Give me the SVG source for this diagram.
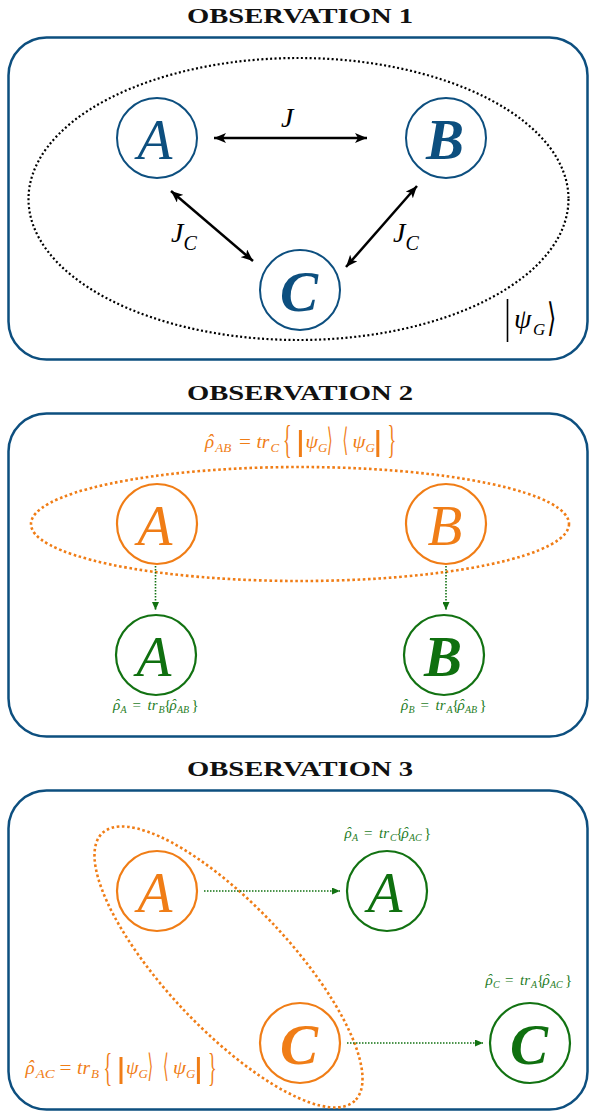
<svg xmlns="http://www.w3.org/2000/svg" width="590" height="1112" viewBox="0 0 590 1112">
<style>
.title{font-family:"Liberation Serif",serif;font-weight:bold;font-size:21px;fill:#111;text-anchor:middle}
.panel{fill:none;stroke:#0d4f7f;stroke-width:2.5}
.big{font-family:"Liberation Serif",serif;font-style:italic;font-size:57px;text-anchor:middle}
.bold{font-weight:bold}
.nb{fill:none;stroke:#0d4f7f;stroke-width:2}
.no{fill:none;stroke:#f07d16;stroke-width:2.2}
.ng{fill:none;stroke:#127212;stroke-width:2.2}
.tb{fill:#0d4f7f}.to{fill:#f07d16}.tg{fill:#0f700f}
.m{font-family:"Liberation Serif","DejaVu Serif",serif;font-style:italic}
.up{font-style:normal}
.lbl{font-family:"Liberation Serif","DejaVu Serif",serif;font-style:italic;font-size:15px;fill:#1f7d1f}
.s{font-size:10px}
.orf{font-family:"Liberation Serif","DejaVu Serif",serif;font-style:italic;font-size:19px;fill:#f07d16}
.sub{font-size:13px}
.ang{font-family:"DejaVu Serif",serif;font-style:normal;font-size:32px}
.brc{font-family:"Liberation Serif",serif;font-style:normal;font-size:40px}
.blk{stroke:#000;stroke-width:2.5;fill:none}
.gar{stroke:#127212;stroke-width:1.6;stroke-dasharray:1.5 1.5;fill:none}
.obar{stroke:#f07d16;stroke-width:3}
</style>
<defs>
<marker id="ah" viewBox="0 0 12 10" refX="12" refY="5" markerWidth="12" markerHeight="10" markerUnits="userSpaceOnUse" orient="auto-start-reverse">
<path d="M0,0 L12,5 L0,10 L3,5 z" fill="#000"/>
</marker>
<marker id="gh" viewBox="0 0 8 7" refX="8" refY="3.5" markerWidth="8" markerHeight="7" markerUnits="userSpaceOnUse" orient="auto">
<path d="M0,0 L8,3.5 L0,7 z" fill="#127212"/>
</marker>
</defs>

<!-- Titles -->
<text class="title" x="300" y="23" textLength="226" lengthAdjust="spacingAndGlyphs">OBSERVATION 1</text>
<text class="title" x="300" y="400" textLength="226" lengthAdjust="spacingAndGlyphs">OBSERVATION 2</text>
<text class="title" x="300" y="776" textLength="226" lengthAdjust="spacingAndGlyphs">OBSERVATION 3</text>

<!-- Panels -->
<rect class="panel" x="8.5" y="37.5" width="579" height="322" rx="38" ry="38"/>
<rect class="panel" x="8.5" y="413.5" width="579" height="323" rx="38" ry="38"/>
<rect class="panel" x="8.5" y="790.5" width="579" height="319" rx="38" ry="38"/>

<!-- Observation 1 -->
<ellipse cx="298.5" cy="199" rx="270" ry="141" fill="none" stroke="#000" stroke-width="2.2" stroke-dasharray="2 2.4"/>
<g id="o1-A"><circle class="nb" cx="157" cy="138" r="40"/><text class="big tb" x="155" y="159">A</text></g>
<g id="o1-B"><circle class="nb" cx="446" cy="138" r="40"/><text class="big tb bold" x="445" y="159">B</text></g>
<g id="o1-C"><circle class="nb" cx="300" cy="290" r="40"/><text class="big tb bold" x="299" y="311">C</text></g>
<g id="o1-connectors">
<line class="blk" x1="214" y1="138" x2="367" y2="138" marker-start="url(#ah)" marker-end="url(#ah)"/>
<line class="blk" x1="171" y1="191" x2="253" y2="261" marker-start="url(#ah)" marker-end="url(#ah)"/>
<line class="blk" x1="417" y1="186" x2="346" y2="267" marker-start="url(#ah)" marker-end="url(#ah)"/>
</g>
<text class="m" x="281" y="127" font-size="28" fill="#000">J</text>
<text class="m" x="171" y="242" font-size="28" fill="#000">J<tspan font-size="20" dy="8">C</tspan></text>
<text class="m" x="393" y="242" font-size="28" fill="#000">J<tspan font-size="20" dy="8">C</tspan></text>
<g id="o1-psi">
<line x1="507.5" y1="299" x2="507.5" y2="342" stroke="#000" stroke-width="1.6"/>
<text class="m" x="514" y="328" font-size="28" fill="#000">ψ</text>
<text class="m" x="533" y="335" font-size="17" fill="#000">G</text>
<text x="547" y="331" font-family="DejaVu Serif,serif" font-size="34" fill="#000" transform="translate(547 331) scale(0.7 1.15) translate(-547 -331)">⟩</text>
</g>

<!-- Observation 2 -->
<ellipse cx="300" cy="524" rx="269" ry="57" fill="none" stroke="#f07d16" stroke-width="2.6" stroke-dasharray="2.6 2.6"/>
<g id="o2-formula" class="orf">
<text x="205" y="448">ρ</text>
<text x="207" y="447">ˆ</text>
<text class="sub" x="215.2" y="452" textLength="16" lengthAdjust="spacingAndGlyphs">AB</text>
<text class="up" x="238.9" y="448" textLength="12" lengthAdjust="spacingAndGlyphs">=</text>
<text x="256.4" y="448" textLength="13" lengthAdjust="spacingAndGlyphs">tr</text>
<text class="sub" x="270.4" y="452">C</text>
<text class="brc" x="283" y="453" transform="translate(283 453) scale(0.45 1) translate(-283 -453)">{</text>
<line class="obar" x1="300.4" y1="430" x2="300.4" y2="457"/>
<text x="305.4" y="448" textLength="12.5" lengthAdjust="spacingAndGlyphs">ψ</text>
<text class="sub" x="318" y="452">G</text>
<text class="ang" x="327" y="451" transform="translate(327 451) scale(0.45 1) translate(-327 -451)">⟩</text>
<text class="ang" x="342.5" y="451" transform="translate(342.5 451) scale(0.45 1) translate(-342.5 -451)">⟨</text>
<text x="352.4" y="448" textLength="13" lengthAdjust="spacingAndGlyphs">ψ</text>
<text class="sub" x="365.4" y="452">G</text>
<line class="obar" x1="377.8" y1="430" x2="377.8" y2="457"/>
<text class="brc" x="387.5" y="453" transform="translate(387.5 453) scale(0.45 1) translate(-387.5 -453)">}</text>
</g>
<g id="o2-A"><circle class="no" cx="157" cy="524" r="40"/><text class="big to" x="155" y="545">A</text></g>
<g id="o2-B"><circle class="no" cx="446" cy="524" r="40"/><text class="big to" x="445" y="545">B</text></g>
<g id="o2-Ag"><circle class="ng" cx="156" cy="655" r="40"/><text class="big tg" x="154" y="676">A</text></g>
<g id="o2-Bg"><circle class="ng" cx="444" cy="655" r="40"/><text class="big tg bold" x="443" y="676">B</text></g>
<g id="o2-connectors">
<line class="gar" x1="155.5" y1="566" x2="155.5" y2="610" marker-end="url(#gh)"/>
<line class="gar" x1="446" y1="566" x2="446" y2="610" marker-end="url(#gh)"/>
</g>
<text class="lbl"><tspan x="113" y="710">ρ</tspan><tspan x="114.5" y="709">ˆ</tspan><tspan class="s" x="120.5" y="713">A</tspan><tspan class="up" x="132.5" y="710">=</tspan><tspan x="147.5" y="710">tr</tspan><tspan class="s" x="158.5" y="713">B</tspan><tspan class="up" x="164" y="710">{</tspan><tspan x="169.5" y="710">ρ</tspan><tspan x="171" y="709">ˆ</tspan><tspan class="s" x="177" y="713">AB</tspan><tspan class="up" x="191.5" y="710">}</tspan></text>
<text class="lbl"><tspan x="401" y="710">ρ</tspan><tspan x="402.5" y="709">ˆ</tspan><tspan class="s" x="408.5" y="713">B</tspan><tspan class="up" x="420.5" y="710">=</tspan><tspan x="435.5" y="710">tr</tspan><tspan class="s" x="446.5" y="713">A</tspan><tspan class="up" x="452" y="710">{</tspan><tspan x="457.5" y="710">ρ</tspan><tspan x="459" y="709">ˆ</tspan><tspan class="s" x="465" y="713">AB</tspan><tspan class="up" x="479.5" y="710">}</tspan></text>

<!-- Observation 3 -->
<ellipse cx="228.5" cy="967" rx="184" ry="62" fill="none" stroke="#f07d16" stroke-width="2.6" stroke-dasharray="2.6 2.6" transform="rotate(46.7 228.5 967)"/>
<g id="o3-A"><circle class="no" cx="157" cy="891" r="40"/><text class="big to" x="155" y="912">A</text></g>
<g id="o3-Ag"><circle class="ng" cx="387" cy="891" r="40"/><text class="big tg" x="385" y="912">A</text></g>
<g id="o3-C"><circle class="no" cx="300" cy="1043" r="40"/><text class="big to bold" x="299" y="1064">C</text></g>
<g id="o3-Cg"><circle class="ng" cx="530" cy="1043" r="40"/><text class="big tg bold" x="529" y="1064">C</text></g>
<g id="o3-connectors">
<line class="gar" x1="204" y1="891" x2="340" y2="891" marker-end="url(#gh)"/>
<line class="gar" x1="347" y1="1043" x2="483" y2="1043" marker-end="url(#gh)"/>
</g>
<text class="lbl"><tspan x="344.5" y="838">ρ</tspan><tspan x="346" y="837">ˆ</tspan><tspan class="s" x="352" y="841">A</tspan><tspan class="up" x="364" y="838">=</tspan><tspan x="379" y="838">tr</tspan><tspan class="s" x="390" y="841">C</tspan><tspan class="up" x="396" y="838">{</tspan><tspan x="401.5" y="838">ρ</tspan><tspan x="403" y="837">ˆ</tspan><tspan class="s" x="409" y="841">AC</tspan><tspan class="up" x="424" y="838">}</tspan></text>
<text class="lbl"><tspan x="485.5" y="985">ρ</tspan><tspan x="487" y="984">ˆ</tspan><tspan class="s" x="493" y="988">C</tspan><tspan class="up" x="505" y="985">=</tspan><tspan x="520" y="985">tr</tspan><tspan class="s" x="531" y="988">A</tspan><tspan class="up" x="537" y="985">{</tspan><tspan x="542.5" y="985">ρ</tspan><tspan x="544" y="984">ˆ</tspan><tspan class="s" x="550" y="988">AC</tspan><tspan class="up" x="565" y="985">}</tspan></text>
<g id="o3-formula" class="orf">
<text x="25.6" y="1074">ρ</text>
<text x="27.6" y="1073">ˆ</text>
<text class="sub" x="35.8" y="1078" textLength="19" lengthAdjust="spacingAndGlyphs">AC</text>
<text class="up" x="59.5" y="1074" textLength="12" lengthAdjust="spacingAndGlyphs">=</text>
<text x="77" y="1074" textLength="13" lengthAdjust="spacingAndGlyphs">tr</text>
<text class="sub" x="91" y="1078">B</text>
<text class="brc" x="103.6" y="1081" transform="translate(103.6 1081) scale(0.45 1) translate(-103.6 -1081)">{</text>
<line class="obar" x1="121" y1="1057" x2="121" y2="1084"/>
<text x="126" y="1074" textLength="12.5" lengthAdjust="spacingAndGlyphs">ψ</text>
<text class="sub" x="138.6" y="1078">G</text>
<text class="ang" x="147.6" y="1077" transform="translate(147.6 1077) scale(0.45 1) translate(-147.6 -1077)">⟩</text>
<text class="ang" x="163.1" y="1077" transform="translate(163.1 1077) scale(0.45 1) translate(-163.1 -1077)">⟨</text>
<text x="173" y="1074" textLength="13" lengthAdjust="spacingAndGlyphs">ψ</text>
<text class="sub" x="186" y="1078">G</text>
<line class="obar" x1="198.4" y1="1057" x2="198.4" y2="1084"/>
<text class="brc" x="208.1" y="1081" transform="translate(208.1 1081) scale(0.45 1) translate(-208.1 -1081)">}</text>
</g>
</svg>
